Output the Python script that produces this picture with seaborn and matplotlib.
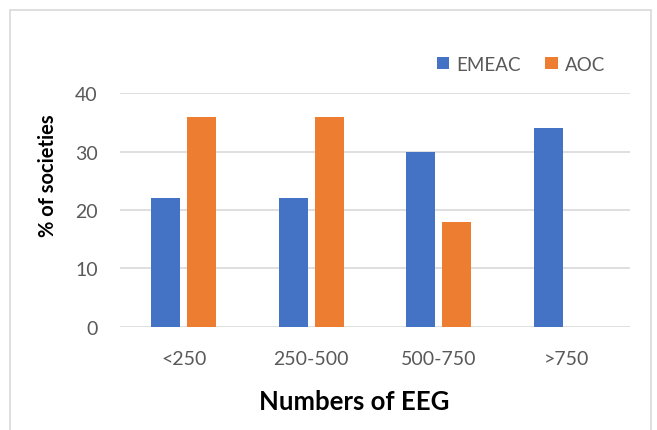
import matplotlib
matplotlib.use("Agg")
import matplotlib.pyplot as plt
from matplotlib.patches import Rectangle
import seaborn as sns
import pandas as pd

categories = ["<250", "250-500", "500-750", ">750"]
emeac = [22, 22, 30, 34]
aoc = [36, 36, 18, 0]
series_names = ["EMEAC", "AOC"]
yticks = [0, 10, 20, 30, 40]

df = pd.DataFrame({
    "group": categories * 2,
    "series": [series_names[0]] * len(categories) + [series_names[1]] * len(categories),
    "value": emeac + aoc,
})

sns.set_theme(style="white")
plt.rcParams["font.family"] = ["Lato", "DejaVu Sans"]

fig = plt.figure(figsize=(6.57, 4.31), dpi=100)
ax = fig.add_axes([0.1826, 0.2397, 0.7764, 0.5415])

palette = {"EMEAC": "#4472C4", "AOC": "#ED7D31"}
sns.barplot(data=df, x="group", y="value", hue="series", palette=palette,
            order=categories, hue_order=series_names,
            width=0.565, gap=0.195, saturation=1, linewidth=0,
            ax=ax, legend=True)

ax.set_xlim(-0.5, len(categories) - 0.5)
ax.set_ylim(0, 40)
ax.set_yticks(yticks)
ax.yaxis.grid(True, color="#D9D9D9", linewidth=1.2)
ax.set_axisbelow(True)
for s in ax.spines.values():
    s.set_visible(False)
ax.tick_params(axis="both", length=0, labelsize=14, labelcolor="#595959")
ax.tick_params(axis="x", pad=17)
ax.tick_params(axis="y", pad=16)

ax.set_xlabel("Numbers of EEG", fontsize=18.5, fontweight="bold", color="black")
ax.set_ylabel("% of societies", fontsize=14.5, fontweight="bold", color="black")
ax.xaxis.set_label_coords(0.46, -0.265)
ax.yaxis.set_label_coords(-0.122, 0.651)

leg = ax.legend(loc="center", bbox_to_anchor=(0.0, 0.0, 1, 1),
                bbox_transform=fig.transFigure, frameon=False, ncol=2,
                fontsize=13.5, handlelength=0.65, handleheight=0.6,
                columnspacing=1.3, handletextpad=0.4)
for t in leg.get_texts():
    t.set_color("#595959")
leg.set_bbox_to_anchor((0.793, 0.848), transform=fig.transFigure)

# outer chart frame
fig.patches.append(Rectangle((10 / 657, -0.05), 641 / 657, 1.05 - 11 / 431,
                             transform=fig.transFigure, fill=False,
                             edgecolor="#D9D9D9", linewidth=1.2))

fig.savefig("out.png", dpi=100)
